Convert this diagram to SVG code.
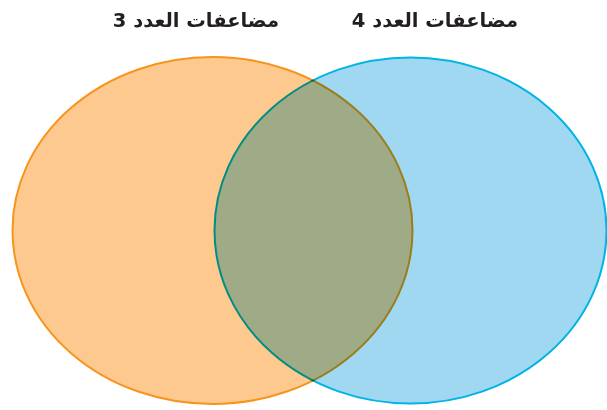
<svg xmlns="http://www.w3.org/2000/svg" width="607" height="410" viewBox="0 0 607 410">
<style>
.lbl{font-family:"DejaVu Sans","Noto Sans",sans-serif;font-weight:bold;font-size:19.5px;fill:#231f20;text-anchor:middle;direction:rtl}
</style>
<rect width="607" height="410" fill="#ffffff"/>
<g id="set3">
<ellipse cx="212.5" cy="230.5" rx="200" ry="173.5" fill="#fdc98f" stroke="#f7941d" stroke-width="2"/>
</g>
<g id="set4" style="mix-blend-mode:multiply">
<ellipse cx="410.5" cy="230.5" rx="196" ry="173" fill="#a0d8f1" stroke="#00b4e6" stroke-width="2"/>
</g>
<g id="labels">
<text class="lbl" x="196" y="27">مضاعفات العدد 3</text>
<text class="lbl" x="435" y="27">مضاعفات العدد 4</text>
</g>
</svg>
